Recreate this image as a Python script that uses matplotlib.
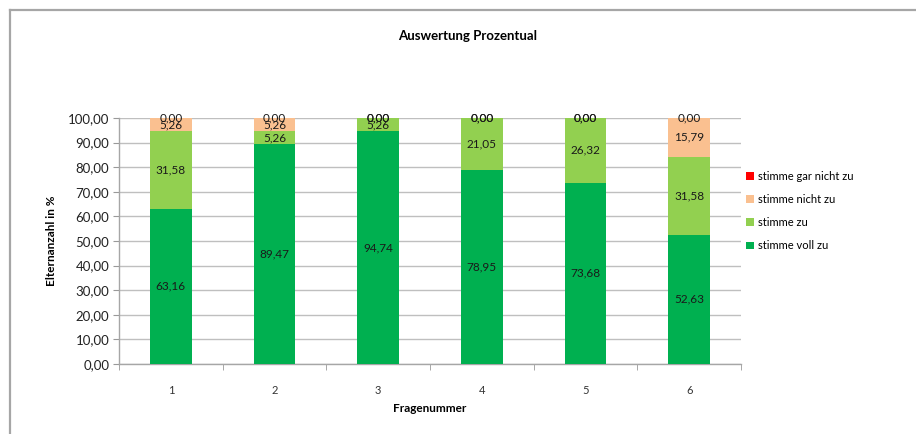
import matplotlib
matplotlib.use("Agg")
import matplotlib.pyplot as plt
from matplotlib.patches import Patch
from matplotlib.lines import Line2D
import numpy as np

plt.rcParams['font.family'] = ['Lato', 'DejaVu Sans']

categories = ["1", "2", "3", "4", "5", "6"]
voll_zu = [63.16, 89.47, 94.74, 78.95, 73.68, 52.63]
zu = [31.58, 5.26, 5.26, 21.05, 26.32, 31.58]
nicht_zu = [5.26, 5.26, 0.00, 0.00, 0.00, 15.79]
gar_nicht_zu = [0.00, 0.00, 0.00, 0.00, 0.00, 0.00]
series = [("stimme voll zu", voll_zu, "#00B050"),
          ("stimme zu", zu, "#92D050"),
          ("stimme nicht zu", nicht_zu, "#FAC090"),
          ("stimme gar nicht zu", gar_nicht_zu, "#FF0000")]
yticks = [0, 10, 20, 30, 40, 50, 60, 70, 80, 90, 100]

fig = plt.figure(figsize=(9.16, 4.34), dpi=100)
ax = fig.add_axes([119/916, 70/434, (741-119)/916, (364-118)/434])

x = np.arange(1, len(categories) + 1)
bottom = np.zeros(len(categories))
handles = []
for name, vals, col in series:
    vals = np.array(vals)
    ax.bar(x, vals, 0.4, bottom=bottom, color=col, zorder=3)
    for xi, b, v in zip(x, bottom, vals):
        ax.text(xi, b + v / 2, f"{v:.2f}".replace(".", ","), ha="center", va="center",
                fontsize=8.5, color="#1a1a1a", zorder=4)
    bottom = bottom + vals
    handles.append(Patch(facecolor=col, label=name))

ax.set_xlim(0.5, 6.5)
ax.set_ylim(0, 100)
ax.set_yticks(yticks)
ax.set_yticklabels([f"{v:.2f}".replace(".", ",") for v in yticks], fontsize=9.5, color="#222222")
ax.set_xticks(x)
ax.set_xticklabels(categories, fontsize=8, color="#333333")
ax.set_xticks(np.arange(0.5, 7.0, 1.0), minor=True)
ax.tick_params(axis="x", which="major", length=0, pad=15)
ax.tick_params(axis="x", which="minor", length=4, color="#999999", direction="out")
ax.tick_params(axis="y", length=4, color="#999999", direction="out", pad=3)
ax.grid(axis="y", color="#bfbfbf", linewidth=1, zorder=0)
for s in ["top", "right"]:
    ax.spines[s].set_visible(False)
for s in ["left", "bottom"]:
    ax.spines[s].set_color("#a6a6a6")
    ax.spines[s].set_linewidth(1)

ax.set_ylabel("Elternanzahl in %", fontsize=8.5, fontweight="bold", labelpad=8)
ax.set_xlabel("Fragenummer", fontsize=8.5, fontweight="bold", labelpad=5)
fig.text(468/916, 1 - 36/434, "Auswertung Prozentual", ha="center", va="center",
         fontsize=9.5, fontweight="bold")

fig.legend(handles=handles[::-1], loc="center left", bbox_to_anchor=(742/916, 1 - 211/434),
           frameon=False, fontsize=8, handlelength=0.7, handleheight=0.7,
           handletextpad=0.3, labelspacing=1.1, borderaxespad=0)

# chart border (left and top)
fig.add_artist(Line2D([10/916, 10/916], [0, 1 - 10/434], color="#a6a6a6", linewidth=1.6))
fig.add_artist(Line2D([10/916, 1], [1 - 10/434, 1 - 10/434], color="#a6a6a6", linewidth=1.6))

fig.savefig("out.png", dpi=100)
